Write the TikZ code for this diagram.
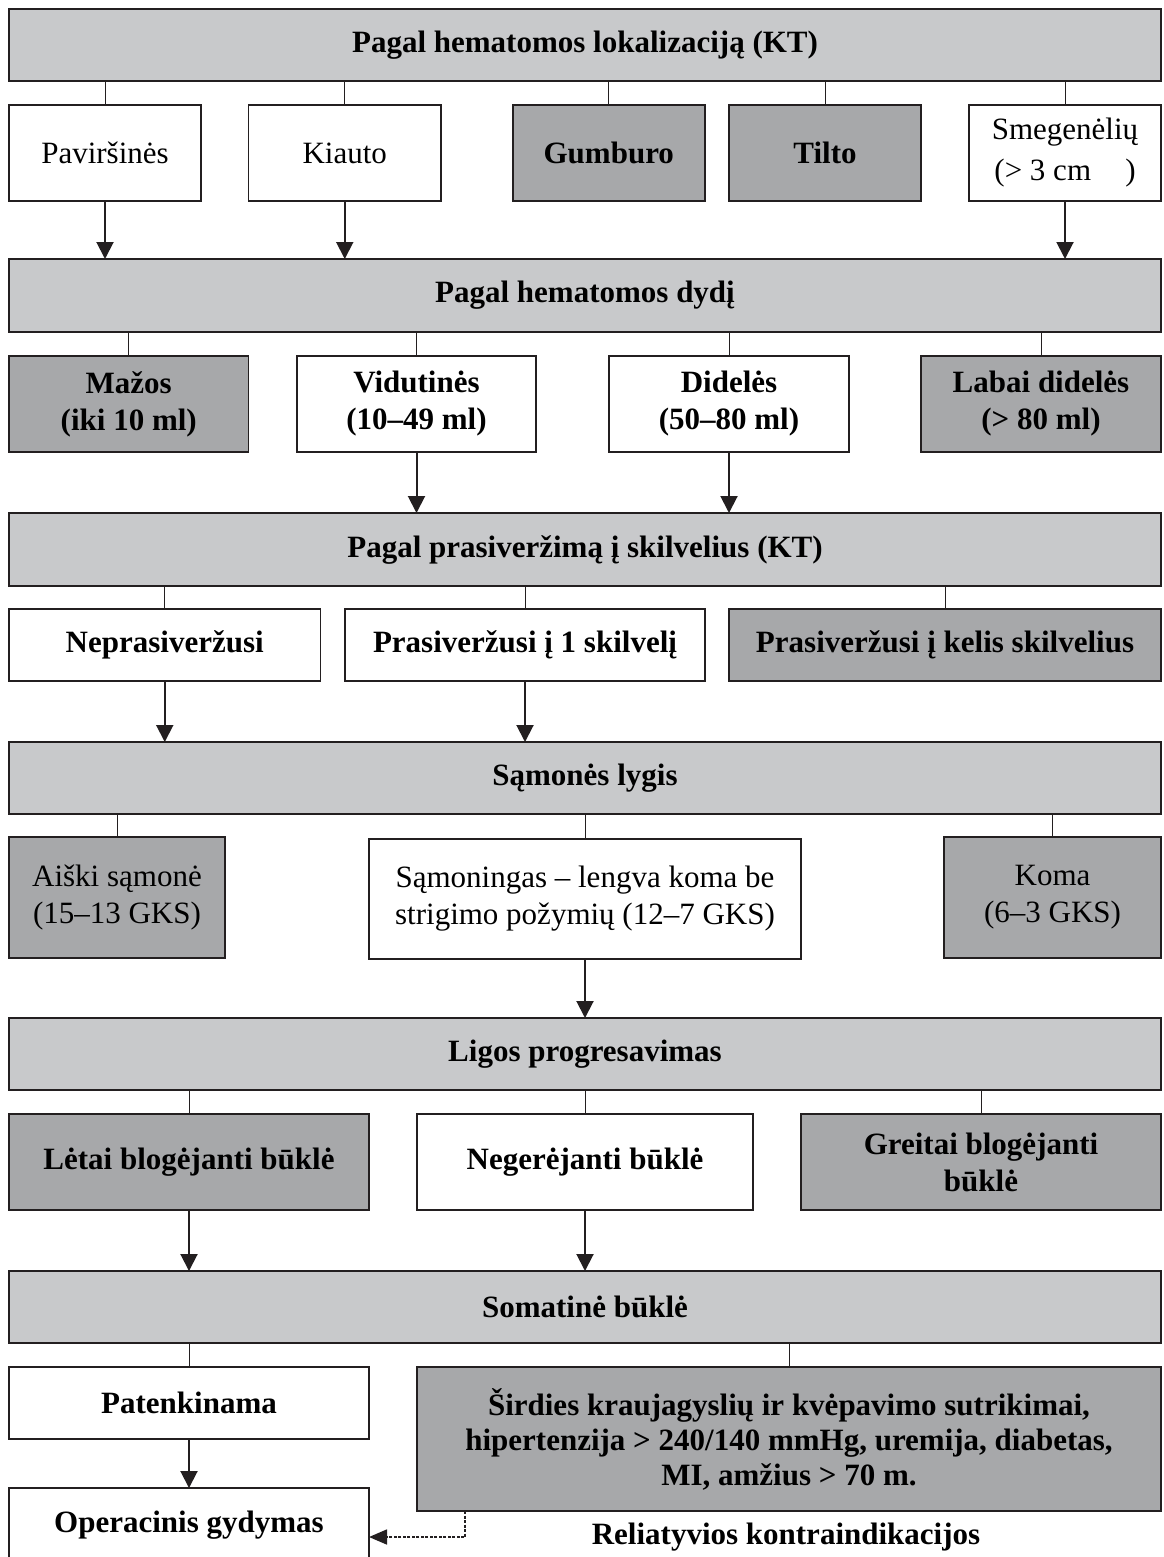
\documentclass[tikz,border=0pt]{standalone}
\usepackage{fontspec}
\setmainfont{Liberation Serif}
\usetikzlibrary{arrows.meta}
\definecolor{barfill}{RGB}{200,201,203}
\definecolor{darkfill}{RGB}{167,168,170}
\definecolor{edgec}{RGB}{35,31,32}
\newcommand\mkbox[7]{\node[#6,minimum width={#4-#2},minimum height={#5-#3}] (#1) at ({(#2+#4)/2},{(#3+#5)/2}) {#7};}
\tikzset{
  box/.style={draw=edgec,line width=1.8pt,inner sep=0pt,outer sep=0pt,align=center,font=\fontsize{31}{37}\selectfont},
  bar/.style={box,fill=barfill,font=\fontsize{31}{37}\selectfont\bfseries},
  wbox/.style={box,fill=white},
  gbox/.style={box,fill=darkfill},
  bf/.style={font=\fontsize{31}{37}\selectfont\bfseries},
  conn/.style={draw=edgec,line width=0.9pt},
  arr/.style={draw=edgec,line width=2pt,-{Triangle[length=17pt,width=17pt]}},
  dsh/.style={draw=edgec,line width=1.6pt,dash pattern=on 3pt off 1.5pt,-{Triangle[length=18pt,width=15pt]}}
}
\begin{document}
\begin{tikzpicture}[x=1pt,y=-1pt]
\useasboundingbox (0,0) rectangle (1163,1557);
\clip (0,0) rectangle (1163,1557);
\fill[white] (0,0) rectangle (1163,1557);
% level 1
\mkbox{b1}{9}{9}{1161}{81}{bar}{Pagal hematomos lokalizaciją (KT)}
\mkbox{a1}{9}{105}{201}{201}{wbox}{Paviršinės}
\mkbox{a2}{248.5}{105}{441}{201}{wbox}{Kiauto}
\mkbox{a3}{512.6}{105}{705}{201}{gbox,bf}{Gumburo}
\mkbox{a4}{729}{105}{921}{201}{gbox,bf}{Tilto}
\mkbox{a5}{969}{105}{1161}{201}{wbox,font=\fontsize{31}{41}\selectfont}{Smegenėlių\\(> 3 cm\hspace{1.1em})}
% level 2
\mkbox{b2}{9}{259}{1161}{332}{bar}{Pagal hematomos dydį}
\mkbox{c1}{9}{356}{248.5}{452}{gbox,bf}{Mažos\\(iki 10 ml)}
\mkbox{c2}{297}{356}{536}{452}{wbox,bf}{Vidutinės\\(10–49 ml)}
\mkbox{c3}{609}{356}{849}{452}{wbox,bf}{Didelės\\(50–80 ml)}
\mkbox{c4}{921}{356}{1161}{452}{gbox,bf}{Labai didelės\\(> 80 ml)}
% level 3
\mkbox{b3}{9}{513}{1161}{586}{bar}{Pagal prasiveržimą į skilvelius (KT)}
\mkbox{d1}{9}{609}{320.5}{681}{wbox,bf}{Neprasiveržusi}
\mkbox{d2}{345}{609}{705}{681}{wbox,bf}{Prasiveržusi į 1 skilvelį}
\mkbox{d3}{729}{609}{1161}{681}{gbox,bf}{Prasiveržusi į kelis skilvelius}
% level 4
\mkbox{b4}{9}{742}{1161}{814}{bar}{Sąmonės lygis}
\mkbox{e1}{9}{837}{225}{958}{gbox}{Aiški sąmonė\\(15–13 GKS)}
\mkbox{e2}{369}{839}{801}{959}{wbox}{Sąmoningas – lengva koma be\\strigimo požymių (12–7 GKS)}
\mkbox{e3}{944}{837}{1161}{958}{gbox}{Koma\\(6–3 GKS)}
% level 5
\mkbox{b5}{9}{1018}{1161}{1090}{bar}{Ligos progresavimas}
\mkbox{f1}{9}{1114}{369}{1210}{gbox,bf}{Lėtai blogėjanti būklė}
\mkbox{f2}{417}{1114}{753}{1210}{wbox,bf}{Negerėjanti būklė}
\mkbox{f3}{801}{1114}{1161}{1210}{gbox,bf}{Greitai blogėjanti\\būklė}
% level 6
\mkbox{b6}{9}{1271}{1161}{1343}{bar}{Somatinė būklė}
\mkbox{g1}{9}{1367}{369}{1439}{wbox,bf}{Patenkinama}
\mkbox{g2}{417}{1367}{1161}{1511}{gbox,font=\fontsize{31}{35}\selectfont\bfseries}{Širdies kraujagyslių ir kvėpavimo sutrikimai,\\hipertenzija > 240/140 mmHg, uremija, diabetas,\\MI, amžius > 70 m.}
\mkbox{h1}{9}{1488}{369}{1562}{wbox,bf}{Operacinis gydymas}
\node[bf,inner sep=0pt,anchor=base] (rel) at (786,1544) {Reliatyvios kontraindikacijos};
% thin connectors
\foreach \c in {a1,a2,a3,a4,a5} \draw[conn] (\c.north) -- (\c.north |- b1.south);
\foreach \c in {c1,c2,c3,c4} \draw[conn] (\c.north) -- (\c.north |- b2.south);
\foreach \c in {d1,d2,d3} \draw[conn] (\c.north) -- (\c.north |- b3.south);
\foreach \c in {e1,e2,e3} \draw[conn] (\c.north) -- (\c.north |- b4.south);
\foreach \c in {f1,f2,f3} \draw[conn] (\c.north) -- (\c.north |- b5.south);
\foreach \c in {g1,g2} \draw[conn] (\c.north) -- (\c.north |- b6.south);
% arrows
\foreach \c in {a1,a2,a5} \draw[arr] (\c.south) -- (\c.south |- b2.north);
\foreach \c in {c2,c3} \draw[arr] (\c.south) -- (\c.south |- b3.north);
\foreach \c in {d1,d2} \draw[arr] (\c.south) -- (\c.south |- b4.north);
\draw[arr] (e2.south) -- (e2.south |- b5.north);
\foreach \c in {f1,f2} \draw[arr] (\c.south) -- (\c.south |- b6.north);
\draw[arr] (g1.south) -- (h1.north);
% dashed arrow
\coordinate (dk) at (465,1511);
\coordinate (dy) at (0,1537);
\draw[dsh] (dk) |- (h1.east |- dy);
\end{tikzpicture}
\end{document}
